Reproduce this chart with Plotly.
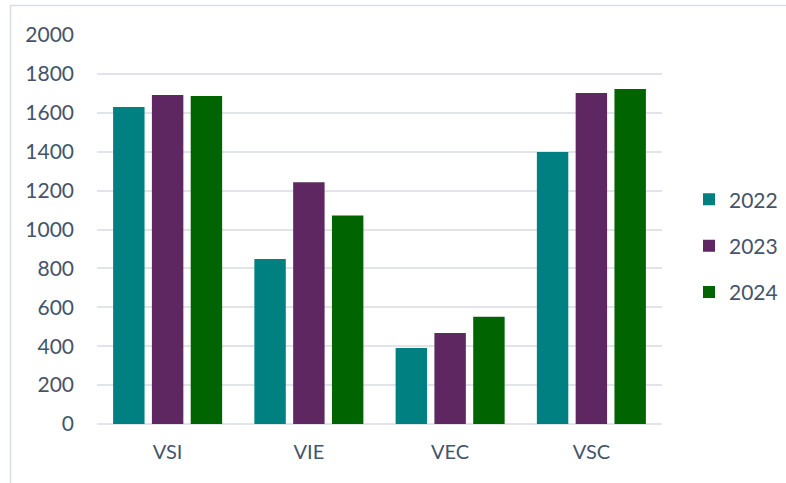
import plotly.graph_objects as go

categories = ["VSI", "VIE", "VEC", "VSC"]
series_names = ["2022", "2023", "2024"]
values_2022 = [1630, 848, 391, 1398]
values_2023 = [1692, 1243, 468, 1702]
values_2024 = [1687, 1072, 551, 1722]
y_ticks = [0, 200, 400, 600, 800, 1000, 1200, 1400, 1600, 1800, 2000]

colors = ["#008080", "#5E2761", "#006400"]
all_values = [values_2022, values_2023, values_2024]

W, H = 786, 483
L, R, T, B = 97, 124, 35, 59
pw = W - L - R
ph = H - T - B

def px_x(px):
    return (px - L) / pw

def px_y(py):
    return (H - B - py) / ph

font_family = "Lato, 'Open Sans', sans-serif"
text_color = "#44546A"

fig = go.Figure()
for name, vals, col in zip(series_names, all_values, colors):
    fig.add_trace(go.Bar(
        x=categories, y=vals, name=name, legendgroup=name,
        marker=dict(color=col, line=dict(width=0)),
    ))

fig.update_layout(
    width=W, height=H, autosize=False,
    margin=dict(l=L, r=R, t=T, b=B, pad=0, autoexpand=False),
    paper_bgcolor="white", plot_bgcolor="white",
    barmode="group", bargap=0.176, bargroupgap=0.19,
    font=dict(family=font_family, size=21, color=text_color),
    legend=dict(
        x=px_x(689), y=px_y(245.7), xanchor="left", yanchor="middle",
        font=dict(family=font_family, size=21, color=text_color),
        tracegroupgap=16, bgcolor="rgba(0,0,0,0)",
    ),
    xaxis=dict(
        showgrid=False, showline=False, zeroline=False,
        ticks="", ticklabelstandoff=14,
        tickfont=dict(family=font_family, size=20, color=text_color),
    ),
    yaxis=dict(
        range=[0, 2000], tickvals=y_ticks,
        showgrid=True, gridcolor="#E1E5EB", gridwidth=1.5,
        zeroline=True, zerolinecolor="#E1E5EB", zerolinewidth=1.5,
        showline=False, ticks="", ticklabelstandoff=22,
        tickfont=dict(family=font_family, size=21, color=text_color),
    ),
    shapes=[dict(
        type="path", xref="paper", yref="paper",
        path=f"M {px_x(10.5)} {px_y(490)} L {px_x(10.5)} {px_y(5.5)} L {px_x(800)} {px_y(5.5)}",
        line=dict(color="#D9DEE5", width=1.5), layer="below",
    )],
)

fig.write_html(
    "out.html",
    config={"displayModeBar": False},
    post_script="document.body.style.margin='0';document.body.style.overflow='hidden';",
)
